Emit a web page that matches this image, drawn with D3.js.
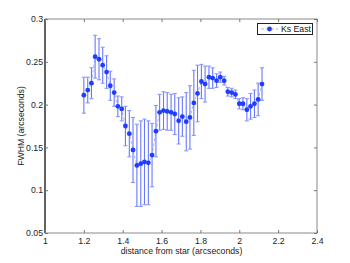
<!DOCTYPE html>
<html><head><meta charset="utf-8">
<script src="https://cdn.jsdelivr.net/npm/d3@7"></script>
<style>body{margin:0;background:#fff}text{font-family:"Liberation Sans",Arial,sans-serif}</style>
</head><body><svg id="c" width="350" height="263"></svg>
<script>
const xVals=[1.200,1.220,1.239,1.258,1.278,1.297,1.317,1.336,1.356,1.375,1.395,1.414,1.434,1.453,1.473,1.493,1.512,1.532,1.551,1.571,1.590,1.610,1.629,1.649,1.668,1.688,1.707,1.727,1.746,1.766,1.785,1.805,1.824,1.844,1.863,1.883,1.902,1.922,1.941,1.961,1.980,2.000,2.019,2.039,2.058,2.078,2.097,2.117];
const fwhm=[0.211,0.217,0.225,0.256,0.253,0.246,0.238,0.222,0.214,0.198,0.195,0.175,0.166,0.147,0.129,0.131,0.133,0.132,0.141,0.169,0.191,0.193,0.192,0.191,0.189,0.181,0.186,0.180,0.185,0.202,0.213,0.227,0.224,0.232,0.231,0.228,0.232,0.228,0.215,0.214,0.212,0.201,0.201,0.194,0.198,0.201,0.206,0.224];
const errs=[0.021,0.015,0.018,0.025,0.024,0.021,0.019,0.017,0.016,0.012,0.014,0.023,0.027,0.038,0.048,0.050,0.050,0.049,0.037,0.030,0.021,0.022,0.022,0.021,0.024,0.027,0.023,0.034,0.037,0.038,0.033,0.020,0.021,0.013,0.012,0.008,0.006,0.005,0.005,0.005,0.005,0.006,0.007,0.013,0.015,0.016,0.019,0.019];
const xTicks=[1,1.2,1.4,1.6,1.8,2,2.2,2.4];
const yTicks=[0.05,0.1,0.15,0.2,0.25,0.3];
const seriesName="Ks East";

const L=45,T=19,W=272,H=214;
const svg=d3.select("#c");
const x=d3.scaleLinear().domain([1,2.4]).range([L,L+W]);
const y=d3.scaleLinear().domain([0.05,0.3]).range([T+H,T]);
const fs="8.7px";
const data=xVals.map((v,i)=>({x:v,y:fwhm[i],e:errs[i]}));

// frame
svg.append("rect").attr("x",L).attr("y",T).attr("width",W).attr("height",H).attr("fill","none").attr("stroke","#8a8a8a").attr("stroke-width",1);
svg.append("line").attr("x1",L).attr("x2",L).attr("y1",T).attr("y2",T+H).attr("stroke","#000").attr("stroke-width",1);

// axes
const gx=svg.append("g").attr("transform",`translate(0,${T+H})`).call(d3.axisBottom(x).tickValues(xTicks).tickSizeInner(-3).tickSizeOuter(0).tickPadding(5).tickFormat(d3.format("")));
const gxt=svg.append("g").attr("transform",`translate(0,${T})`).call(d3.axisTop(x).tickValues(xTicks).tickSizeInner(-3).tickSizeOuter(0).tickFormat(""));
const gy=svg.append("g").attr("transform",`translate(${L},0)`).call(d3.axisLeft(y).tickValues(yTicks).tickSizeInner(-3).tickSizeOuter(0).tickPadding(2).tickFormat(d3.format("")));
const gyr=svg.append("g").attr("transform",`translate(${L+W},0)`).call(d3.axisRight(y).tickValues(yTicks).tickSizeInner(-3).tickSizeOuter(0).tickFormat(""));
[gx,gxt,gy,gyr].forEach(g=>{g.select(".domain").remove();g.selectAll(".tick line").attr("stroke","#777");g.selectAll("text").attr("font-size",fs).attr("fill","#222").style("font-family",'"Liberation Sans",Arial,sans-serif');});

// dashed connecting line
svg.append("path").datum(data).attr("d",d3.line().x(d=>x(d.x)).y(d=>y(d.y))).attr("fill","none").attr("stroke","#a8b0ff").attr("stroke-width",1).attr("stroke-dasharray","3,2");

// error bars
const eb=svg.append("g").attr("stroke","#6878ff").attr("stroke-width",1.1);
eb.selectAll(".v").data(data).join("line").attr("x1",d=>x(d.x)).attr("x2",d=>x(d.x)).attr("y1",d=>y(d.y-d.e)).attr("y2",d=>y(d.y+d.e));
eb.selectAll(".t").data(data).join("line").attr("x1",d=>x(d.x)-2).attr("x2",d=>x(d.x)+2).attr("y1",d=>y(d.y+d.e)).attr("y2",d=>y(d.y+d.e)).attr("stroke","#8a96ff");
eb.selectAll(".b").data(data).join("line").attr("x1",d=>x(d.x)-2).attr("x2",d=>x(d.x)+2).attr("y1",d=>y(d.y-d.e)).attr("y2",d=>y(d.y-d.e)).attr("stroke","#8a96ff");

// markers
svg.append("g").selectAll("circle").data(data).join("circle").attr("cx",d=>x(d.x)).attr("cy",d=>y(d.y)).attr("r",2.4).attr("fill","#1f3dff");

// axis titles
svg.append("text").attr("x",L+W/2+0.5).attr("y",253.5).attr("text-anchor","middle").attr("font-size",fs).attr("fill","#222").text("distance from star (arcseconds)");
svg.append("text").attr("transform",`translate(23.5,${T+H/2}) rotate(-90)`).attr("text-anchor","middle").attr("font-size",fs).attr("fill","#222").text("FWHM (arcseconds)");

// legend
const lg=svg.append("g");
lg.append("rect").attr("x",257.5).attr("y",23.5).attr("width",55).attr("height",11).attr("fill","#fff").attr("stroke","#222").attr("stroke-width",1);
lg.append("line").attr("x1",261).attr("x2",278).attr("y1",29).attr("y2",29).attr("stroke","#a8b0ff").attr("stroke-dasharray","3,2");
lg.append("circle").attr("cx",269.5).attr("cy",29).attr("r",2.4).attr("fill","#1f3dff");
lg.append("text").attr("x",281).attr("y",32.2).attr("font-size",fs).attr("fill","#111").text(seriesName);
</script></body></html>
